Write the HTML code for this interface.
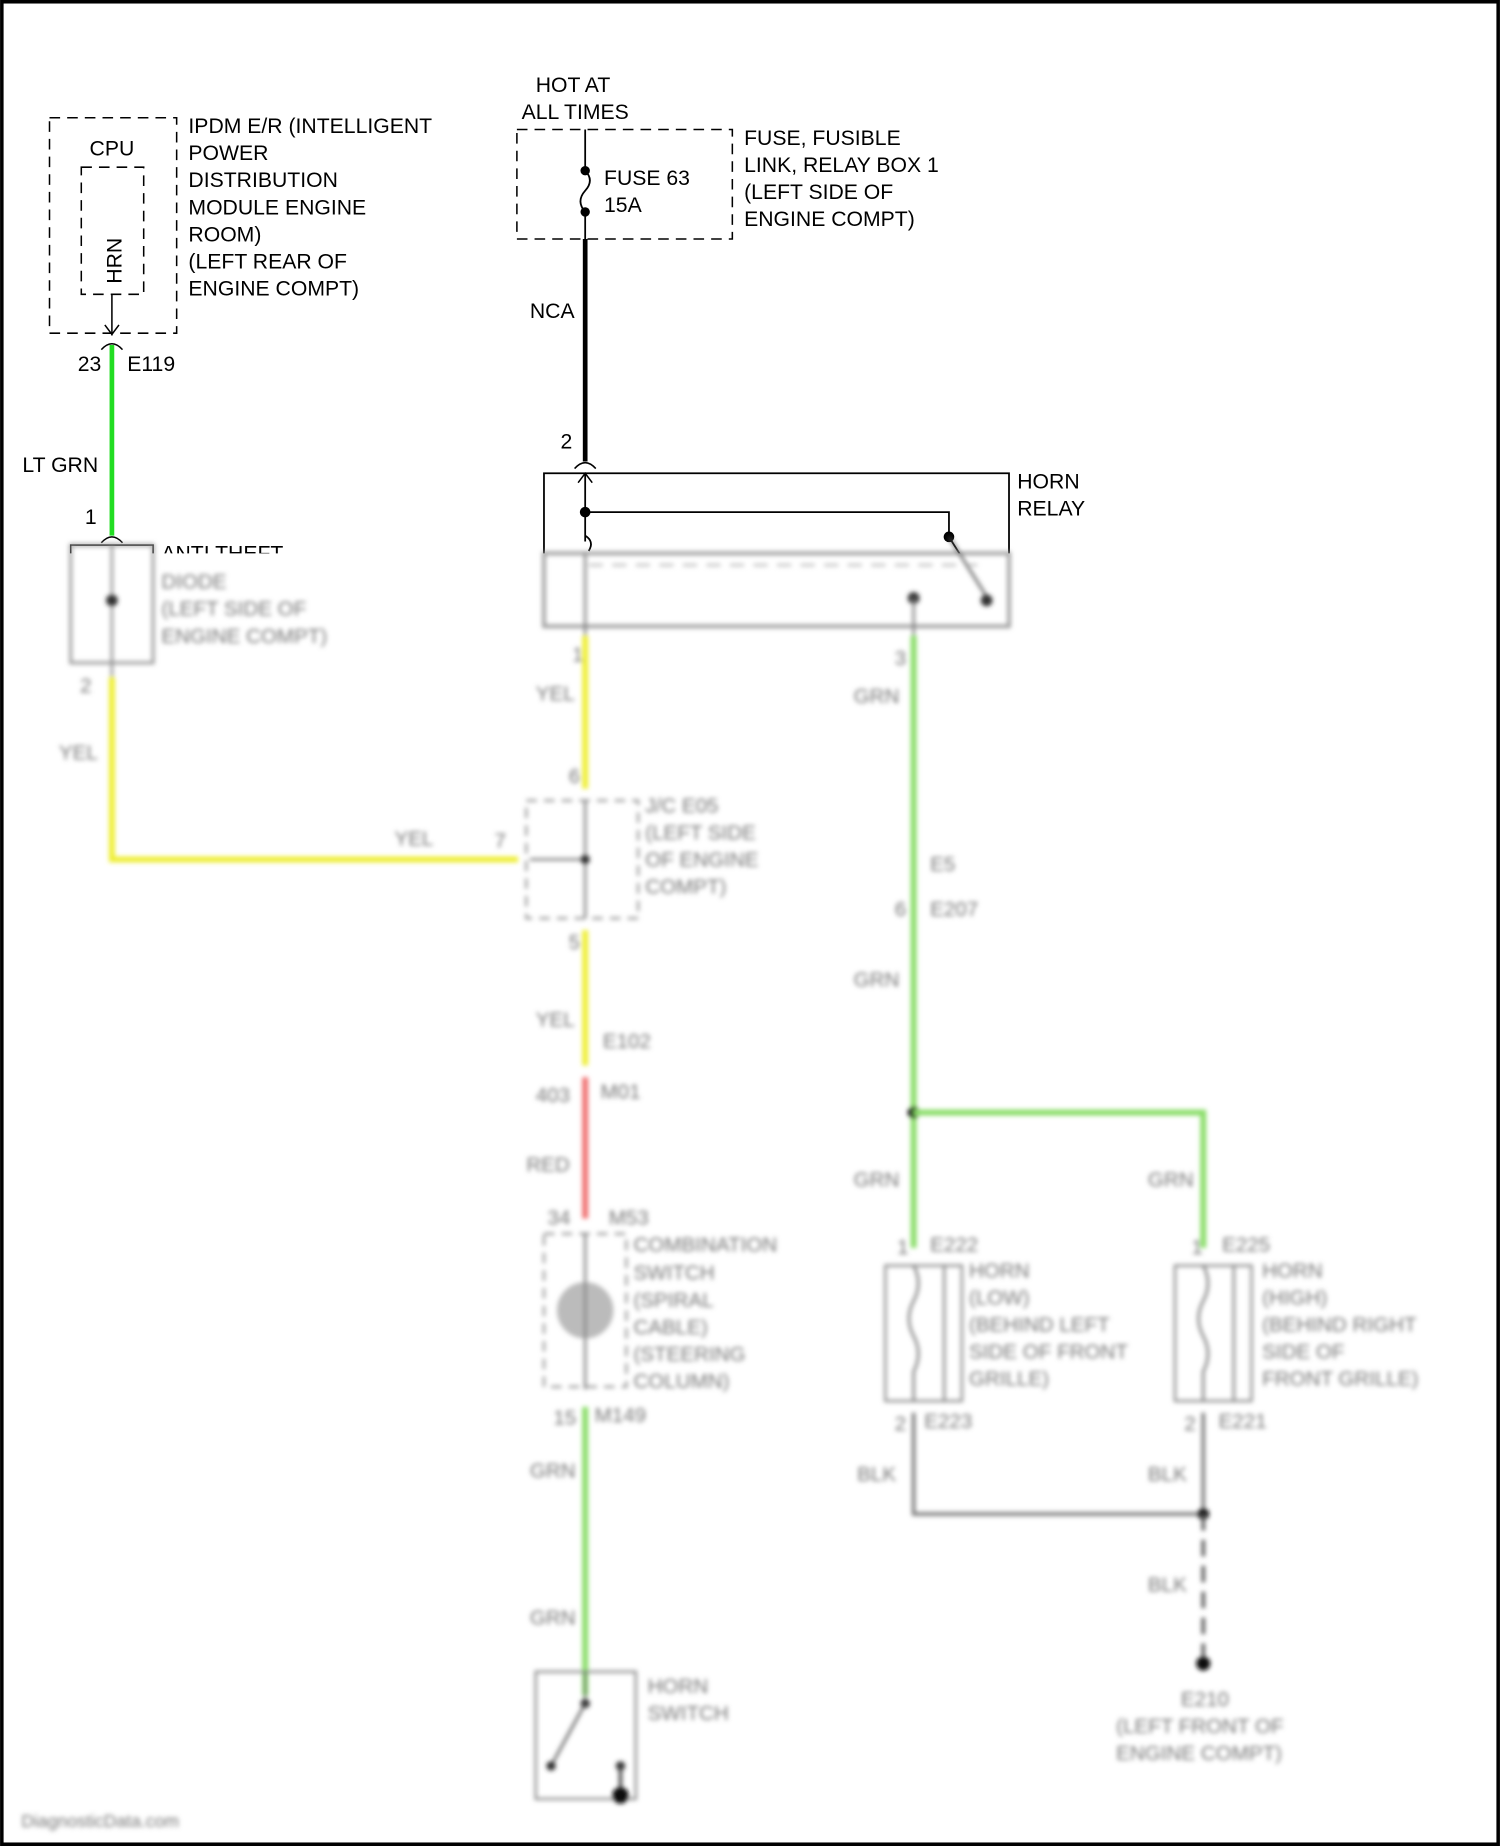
<!DOCTYPE html>
<html><head><meta charset="utf-8"><style>
html,body{margin:0;padding:0;background:#fff}
svg{display:block}
text{font-family:"Liberation Sans",sans-serif;font-size:18px;fill:#000}
.b text{fill:#777;font-size:17.5px}
</style></head><body>
<svg width="1500" height="1846" viewBox="0 0 1274 1568" xmlns="http://www.w3.org/2000/svg">
<defs>
<filter id="bl" x="-5%" y="-5%" width="110%" height="110%"><feGaussianBlur stdDeviation="2"/></filter>
<clipPath id="top"><rect x="0" y="0" width="1274" height="470"/></clipPath>
</defs>
<rect x="0" y="0" width="1274" height="1568" fill="#fff"/>
<rect x="1.5" y="1.5" width="1271" height="1565" fill="none" stroke="#000" stroke-width="3"/>

<g clip-path="url(#top)">
<rect x="42" y="100" width="108" height="183" fill="none" stroke="#000" stroke-width="1.3" stroke-dasharray="9,6"/>
<text x="76" y="132">CPU</text>
<rect x="69" y="142" width="53" height="108" fill="none" stroke="#000" stroke-width="1.3" stroke-dasharray="9,6"/>
<text transform="translate(103,241) rotate(-90)">HRN</text>
<line x1="95" y1="250" x2="95" y2="285" stroke="#000" stroke-width="1.3"/>
<path d="M89,276 L95,284 L101,276" fill="none" stroke="#000" stroke-width="1.3"/>
<path d="M86,297 Q95,287 104,297" fill="none" stroke="#000" stroke-width="1.3"/>
<text x="160" y="113">IPDM E/R (INTELLIGENT</text>
<text x="160" y="136">POWER</text>
<text x="160" y="159">DISTRIBUTION</text>
<text x="160" y="182">MODULE ENGINE</text>
<text x="160" y="205">ROOM)</text>
<text x="160" y="228">(LEFT REAR OF</text>
<text x="160" y="251">ENGINE COMPT)</text>
<text x="66" y="315">23</text>
<text x="108" y="315">E119</text>
<line x1="95" y1="293" x2="95" y2="455" stroke="#22dd22" stroke-width="4"/>
<text x="19" y="401">LT GRN</text>
<text x="72" y="445">1</text>
<path d="M86,461 Q95,451 104,461" fill="none" stroke="#000" stroke-width="1.3"/>
<rect x="60" y="463" width="70" height="100" fill="none" stroke="#000" stroke-width="1.3"/>
<text x="137" y="476">ANTI THEFT</text>

<text x="455" y="78">HOT AT</text>
<text x="443" y="101">ALL TIMES</text>
<rect x="439" y="110" width="183" height="93" fill="none" stroke="#000" stroke-width="1.3" stroke-dasharray="9,6"/>
<line x1="497" y1="110" x2="497" y2="145" stroke="#000" stroke-width="1.5"/>
<circle cx="497" cy="145" r="4"/>
<path d="M497,145 Q505,153 497,162 Q489,171 497,180" fill="none" stroke="#000" stroke-width="1.5"/>
<circle cx="497" cy="180" r="4"/>
<line x1="497" y1="180" x2="497" y2="203" stroke="#000" stroke-width="1.5"/>
<text x="513" y="157">FUSE 63</text>
<text x="513" y="180">15A</text>
<text x="632" y="123">FUSE, FUSIBLE</text>
<text x="632" y="146">LINK, RELAY BOX 1</text>
<text x="632" y="169">(LEFT SIDE OF</text>
<text x="632" y="192">ENGINE COMPT)</text>
<line x1="497" y1="203" x2="497" y2="392" stroke="#000" stroke-width="4"/>
<text x="450" y="270">NCA</text>
<text x="476" y="381">2</text>
<path d="M488,398 Q497,388 506,398" fill="none" stroke="#000" stroke-width="1.3"/>
<rect x="462" y="402" width="395" height="130" fill="none" stroke="#000" stroke-width="1.5"/>
<line x1="497" y1="402" x2="497" y2="460" stroke="#000" stroke-width="1.5"/>
<path d="M491,410 L497,402 L503,410" fill="none" stroke="#000" stroke-width="1.3"/>
<circle cx="497" cy="435" r="4.5"/>
<polyline points="497,435 806,435 806,456" fill="none" stroke="#000" stroke-width="1.5"/>
<circle cx="806" cy="456" r="4.5"/>
<line x1="806" y1="456" x2="840" y2="510" stroke="#000" stroke-width="1.5"/>
<path d="M497,455 Q505,460 500,468" fill="none" stroke="#000" stroke-width="1.5"/>
<text x="864" y="415">HORN</text>
<text x="864" y="438">RELAY</text>
</g>

<g class="b" filter="url(#bl)">
<rect x="60" y="463" width="70" height="100" fill="none" stroke="#999" stroke-width="2.5"/>
<line x1="95" y1="463" x2="95" y2="575" stroke="#888" stroke-width="2"/>
<circle cx="95" cy="510" r="5" fill="#333"/>
<text x="137" y="500">DIODE</text><text x="137" y="523">(LEFT SIDE OF</text><text x="137" y="546">ENGINE COMPT)</text>
<text x="68" y="588">2</text>
<polyline points="95,575 95,730 440,730" fill="none" stroke="#eeee30" stroke-width="5"/>
<text x="50" y="645">YEL</text><text x="335" y="718">YEL</text><text x="420" y="720">7</text>
<rect x="462" y="470" width="395" height="62" fill="none" stroke="#999" stroke-width="3"/>
<line x1="497" y1="470" x2="497" y2="540" stroke="#777" stroke-width="2"/>
<line x1="500" y1="480" x2="830" y2="480" stroke="#bbb" stroke-width="2" stroke-dasharray="12,8"/>
<line x1="806" y1="456" x2="840" y2="510" stroke="#555" stroke-width="2"/>
<circle cx="776" cy="508" r="5" fill="#333"/><circle cx="838" cy="510" r="5" fill="#333"/>
<line x1="776" y1="508" x2="776" y2="540" stroke="#777" stroke-width="2"/>
<line x1="497" y1="540" x2="497" y2="670" stroke="#eeee30" stroke-width="5"/>
<text x="455" y="595">YEL</text><text x="486" y="562">1</text><text x="483" y="665">6</text>
<rect x="447" y="680" width="95" height="100" fill="none" stroke="#999" stroke-width="2" stroke-dasharray="9,6"/>
<line x1="497" y1="680" x2="497" y2="780" stroke="#777" stroke-width="2"/>
<line x1="450" y1="730" x2="497" y2="730" stroke="#777" stroke-width="2"/>
<circle cx="497" cy="730" r="4" fill="#333"/>
<text x="548" y="690">J/C E05</text><text x="548" y="713">(LEFT SIDE</text><text x="548" y="736">OF ENGINE</text><text x="548" y="759">COMPT)</text>
<text x="483" y="806">5</text>
<line x1="497" y1="790" x2="497" y2="905" stroke="#eeee30" stroke-width="5"/>
<text x="455" y="872">YEL</text><text x="512" y="890">E102</text>
<text x="455" y="936">403</text><text x="510" y="933">M01</text>
<line x1="497" y1="915" x2="497" y2="1035" stroke="#f07070" stroke-width="5"/>
<text x="447" y="995">RED</text>
<text x="465" y="1040">34</text><text x="517" y="1040">M53</text>
<rect x="462" y="1048" width="70" height="130" fill="none" stroke="#999" stroke-width="2" stroke-dasharray="9,6"/>
<circle cx="497" cy="1113" r="24" fill="#bbb"/>
<line x1="497" y1="1048" x2="497" y2="1180" stroke="#777" stroke-width="2"/>
<text x="538" y="1063">COMBINATION</text><text x="538" y="1087">SWITCH</text><text x="538" y="1110">(SPIRAL</text><text x="538" y="1133">CABLE)</text><text x="538" y="1156">(STEERING</text><text x="538" y="1179">COLUMN)</text>
<text x="470" y="1210">15</text><text x="505" y="1208">M149</text>
<line x1="497" y1="1195" x2="497" y2="1440" stroke="#88dd66" stroke-width="5"/>
<text x="450" y="1255">GRN</text><text x="450" y="1380">GRN</text>
<rect x="455" y="1420" width="85" height="108" fill="none" stroke="#888" stroke-width="2"/>
<line x1="497" y1="1420" x2="497" y2="1445" stroke="#666" stroke-width="2"/>
<circle cx="497" cy="1447" r="4" fill="#333"/>
<line x1="497" y1="1447" x2="468" y2="1500" stroke="#555" stroke-width="2"/>
<circle cx="468" cy="1500" r="4" fill="#333"/><circle cx="527" cy="1500" r="4" fill="#333"/>
<line x1="527" y1="1500" x2="527" y2="1525" stroke="#444" stroke-width="3"/>
<circle cx="527" cy="1525" r="7" fill="#111"/>
<text x="550" y="1438">HORN</text><text x="550" y="1461">SWITCH</text>
<line x1="776" y1="540" x2="776" y2="1060" stroke="#88dd66" stroke-width="5"/>
<text x="725" y="597">GRN</text><text x="760" y="565">3</text>
<text x="790" y="740">E5</text><text x="760" y="778">6</text><text x="790" y="778">E207</text>
<text x="725" y="838">GRN</text>
<circle cx="776" cy="945" r="5" fill="#111"/>
<polyline points="776,945 1022,945 1022,1060" fill="none" stroke="#88dd66" stroke-width="5"/>
<text x="725" y="1008">GRN</text><text x="975" y="1008">GRN</text>
<text x="762" y="1065">1</text><text x="790" y="1063">E222</text>
<text x="1012" y="1065">1</text><text x="1038" y="1063">E225</text>
<rect x="752" y="1075" width="50" height="115" fill="none" stroke="#888" stroke-width="2"/>
<rect x="802" y="1075" width="15" height="115" fill="none" stroke="#888" stroke-width="2"/>
<rect x="998" y="1075" width="50" height="115" fill="none" stroke="#888" stroke-width="2"/>
<rect x="1048" y="1075" width="15" height="115" fill="none" stroke="#888" stroke-width="2"/>
<path d="M776,1075 q8,15 0,30 q-8,15 0,30 q8,15 0,30 v25" fill="none" stroke="#777" stroke-width="2"/>
<path d="M1022,1075 q8,15 0,30 q-8,15 0,30 q8,15 0,30 v25" fill="none" stroke="#777" stroke-width="2"/>
<text x="823" y="1085">HORN</text><text x="823" y="1108">(LOW)</text><text x="823" y="1131">(BEHIND LEFT</text><text x="823" y="1154">SIDE OF FRONT</text><text x="823" y="1177">GRILLE)</text>
<text x="1072" y="1085">HORN</text><text x="1072" y="1108">(HIGH)</text><text x="1072" y="1131">(BEHIND RIGHT</text><text x="1072" y="1154">SIDE OF</text><text x="1072" y="1177">FRONT GRILLE)</text>
<text x="760" y="1215">2</text><text x="785" y="1213">E223</text><text x="1006" y="1215">2</text><text x="1035" y="1213">E221</text>
<polyline points="776,1200 776,1286 1022,1286" fill="none" stroke="#777" stroke-width="3"/>
<line x1="1022" y1="1200" x2="1022" y2="1286" stroke="#777" stroke-width="3"/>
<text x="728" y="1258">BLK</text><text x="975" y="1258">BLK</text>
<circle cx="1022" cy="1286" r="5" fill="#111"/>
<line x1="1022" y1="1286" x2="1022" y2="1410" stroke="#555" stroke-width="3" stroke-dasharray="14,8"/>
<text x="975" y="1352">BLK</text>
<circle cx="1022" cy="1413" r="6" fill="#111"/>
<text x="1003" y="1449">E210</text><text x="948" y="1472">(LEFT FRONT OF</text><text x="948" y="1495">ENGINE COMPT)</text>
<text x="18" y="1552" style="font-size:15px">DiagnosticData.com</text>
</g>
</svg>
</body></html>
